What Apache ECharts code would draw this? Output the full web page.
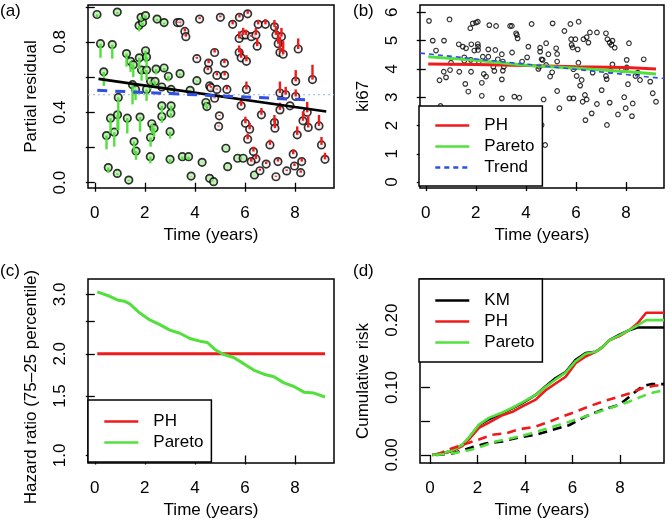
<!DOCTYPE html>
<html><head><meta charset="utf-8">
<script src="https://cdn.jsdelivr.net/npm/echarts@6/dist/echarts.min.js"></script>
<style>html,body{margin:0;padding:0;background:#fff}#c{width:672px;height:521px}</style>
</head><body><div id="c"></div>
<script>
// ---------- Panel (a): partial residuals ----------
const aGreenT = [0.09,0.90,1.77,1.91,1.85,2.03,2.49,2.77,0.23,0.70,1.27,1.43,1.54,1.78,2.03,2.07,1.87,2.07,2.45,2.77,2.94,3.41,0.36,4.08,2.23,2.41,2.68,3.05,1.51,1.63,2.07,0.94,3.81,4.44,4.48,2.68,3.05,2.68,3.04,0.63,0.91,1.30,1.81,2.28,2.37,3.01,0.47,0.78,2.23,1.57,1.65,2.22,3.01,3.50,3.75,0.54,0.90,1.36,3.85,4.29,4.59,4.75,5.24,5.31,5.71,5.93,6.38];
const aGreenY = [0.956,0.970,0.893,0.910,0.940,0.950,0.930,0.910,0.790,0.785,0.734,0.690,0.670,0.710,0.750,0.715,0.640,0.640,0.646,0.652,0.605,0.620,0.630,0.580,0.576,0.576,0.544,0.530,0.557,0.530,0.530,0.485,0.525,0.456,0.433,0.437,0.437,0.376,0.395,0.367,0.386,0.367,0.373,0.335,0.310,0.290,0.268,0.287,0.257,0.234,0.180,0.148,0.133,0.148,0.148,0.086,0.053,0.015,0.038,0.116,0.025,0.006,0.196,0.091,0.139,0.139,0.044];
const aGreenEnd = [0.940,0.960,0.860,0.890,0.920,0.935,0.920,0.900,0.710,0.705,0.660,0.630,0.600,0.645,0.685,0.660,0.580,0.585,0.615,0.635,0.575,0.610,0.550,0.575,0.530,0.550,0.530,0.520,0.445,0.470,0.465,0.300,0.520,0.440,0.420,0.390,0.405,0.340,0.370,0.280,0.300,0.280,0.290,0.280,0.260,0.250,0.190,0.205,0.205,0.170,0.130,0.110,0.110,0.130,0.130,0.055,0.045,0.010,0.036,0.115,0.024,0.005,0.195,0.090,0.138,0.138,0.043];
const aRedT = [3.30,3.40,3.60,3.64,4.19,5.02,5.51,5.78,6.11,5.77,5.93,6.04,6.26,6.44,6.53,6.82,7.18,7.24,7.33,7.46,7.40,7.53,6.49,8.13,5.77,5.85,6.06,4.79,4.55,5.18,4.08,4.52,4.88,5.19,4.59,4.64,4.88,5.28,6.06,7.40,7.63,8.03,8.03,8.70,4.79,4.98,4.95,5.85,6.02,6.19,6.11,6.66,7.18,7.20,7.40,8.09,8.32,8.49,8.53,8.96,9.06,9.20,7.00,6.34,6.44,6.25,6.60,6.85,7.24,7.32,7.67,7.93,7.98,8.23,8.27,7.80];
const aRedY = [0.910,0.910,0.860,0.830,0.930,0.940,0.900,0.940,0.960,0.820,0.840,0.840,0.830,0.840,0.900,0.900,0.886,0.840,0.790,0.830,0.740,0.730,0.776,0.760,0.740,0.710,0.690,0.740,0.680,0.680,0.705,0.640,0.610,0.610,0.550,0.540,0.530,0.530,0.530,0.510,0.500,0.490,0.576,0.586,0.480,0.380,0.320,0.437,0.338,0.304,0.247,0.386,0.342,0.310,0.414,0.272,0.352,0.400,0.314,0.323,0.215,0.133,0.215,0.177,0.135,0.120,0.068,0.106,0.034,0.120,0.067,0.162,0.095,0.057,0.120,0.437];
const aRedEnd = [0.915,0.915,0.875,0.845,0.940,0.950,0.920,0.955,0.975,0.860,0.880,0.870,0.840,0.880,0.925,0.930,0.925,0.890,0.855,0.880,0.830,0.805,0.820,0.820,0.780,0.755,0.725,0.760,0.700,0.700,0.715,0.655,0.625,0.630,0.560,0.550,0.535,0.550,0.575,0.575,0.545,0.530,0.640,0.670,0.485,0.385,0.325,0.470,0.375,0.340,0.280,0.425,0.385,0.360,0.455,0.320,0.405,0.460,0.385,0.385,0.260,0.170,0.245,0.205,0.160,0.140,0.080,0.120,0.040,0.135,0.075,0.190,0.110,0.070,0.140,0.440];
const aFitT = [0.15, 9.25];
const aFitY = [0.59, 0.405];
const aTrendT = [0.1, 8.7];
const aTrendY = [0.525, 0.47];
const aRefT = [-0.27, 9.56];
const aRefY = [0.5, 0.5];

// ---------- Panel (b): ki67 ----------
const bT = [0.13,0.28,0.41,0.95,0.73,0.55,0.72,0.81,0.97,1.01,0.59,1.32,1.48,1.61,1.54,1.54,1.34,1.58,1.70,1.80,1.81,1.78,1.88,2.01,2.08,1.82,1.94,2.08,2.09,2.09,2.12,2.28,2.24,2.24,2.32,2.41,2.50,2.54,2.50,2.70,2.74,2.78,2.81,2.88,3.04,3.04,3.04,3.08,3.08,3.12,3.37,3.44,3.45,3.54,3.74,3.61,3.67,3.64,3.85,4.05,4.10,4.23,4.50,4.54,4.57,4.57,4.63,4.63,4.67,4.71,4.77,4.81,4.81,4.90,4.97,5.05,5.07,5.21,5.25,5.25,5.25,5.34,5.54,5.74,5.78,5.81,5.83,5.87,5.90,5.90,5.98,6.07,6.10,6.11,6.03,6.17,6.23,6.27,6.30,6.36,6.38,6.43,6.43,6.50,6.56,6.63,6.67,6.84,6.84,7.03,7.20,7.20,7.23,7.24,7.26,7.35,7.35,7.39,7.42,7.46,7.46,7.55,7.68,7.83,7.93,7.99,8.03,8.03,8.12,8.08,8.24,8.27,8.38,8.47,8.56,8.71,8.97,9.07,9.20];
const bY = [5.70,5.00,4.65,5.75,5.00,3.60,3.90,3.70,3.96,4.22,2.69,4.87,4.79,4.73,4.41,4.29,3.90,3.47,3.20,4.32,3.90,5.44,5.61,5.64,5.67,4.87,4.65,4.88,4.79,4.67,4.26,4.43,3.51,3.05,3.82,3.73,4.69,5.55,4.43,4.08,3.93,4.67,5.52,4.34,4.52,2.96,3.63,3.94,4.26,4.08,5.52,5.52,4.58,3.02,2.98,5.26,5.08,5.20,4.26,4.41,4.79,5.59,4.00,4.08,4.75,4.61,2.02,4.34,4.32,2.92,1.31,4.91,4.14,4.52,3.73,3.88,5.61,4.73,4.53,4.26,3.22,2.61,5.34,2.96,5.59,5.05,4.85,4.76,3.99,2.96,5.05,4.69,4.22,5.67,3.75,3.41,3.61,2.84,5.05,3.08,2.19,2.92,5.12,4.93,5.29,2.43,3.87,5.29,2.76,3.25,5.26,3.75,3.64,2.02,5.05,4.93,2.81,3.93,4.85,4.16,5.00,4.75,2.39,3.96,3.00,2.61,4.32,4.05,4.91,3.46,2.33,2.78,3.75,3.87,3.61,4.34,3.55,3.14,2.84];
const bPHT = [0.1, 2, 4, 6, 8, 9.2];
const bPHY = [4.17, 4.16, 4.12, 4.08, 4.05, 4.0];
const bParT = [0.1, 1.8, 3.9, 6.0, 8.1, 9.2];
const bParY = [4.43, 4.32, 4.14, 4.02, 3.9, 3.82];
const bTrendT = [-0.23, 9.52];
const bTrendY = [4.56, 3.66];

// ---------- Panel (c): hazard ratio ----------
const cPHT = [0.1, 9.2];
const cPHY = [2.0, 2.0];
const cParT = [0.1,0.6,0.94,1.2,1.4,1.8,2.2,2.6,3.0,3.4,3.8,4.2,4.5,4.8,5.15,5.55,5.95,6.35,6.76,7.16,7.56,7.96,8.36,8.76,9.2];
const cParY = [3.05,2.96,2.88,2.86,2.81,2.64,2.52,2.44,2.35,2.30,2.22,2.18,2.16,2.06,1.99,1.95,1.87,1.79,1.74,1.71,1.64,1.60,1.54,1.53,1.49];

// ---------- Panel (d): cumulative risk ----------
const dSolidT = [0.1,0.5,0.94,1.36,1.64,2.06,2.48,3.05,3.47,3.89,4.45,4.87,5.29,5.71,6.13,6.55,6.98,7.26,7.54,7.96,8.38,8.73,9.1,9.85];
const dKMY  = [0,0.002,0.006,0.015,0.025,0.044,0.053,0.062,0.069,0.077,0.089,0.102,0.114,0.123,0.141,0.151,0.153,0.160,0.170,0.178,0.185,0.189,0.189,0.189];
const dPHY  = [0,0.002,0.006,0.013,0.023,0.040,0.048,0.059,0.064,0.072,0.082,0.096,0.106,0.116,0.136,0.146,0.153,0.160,0.170,0.176,0.185,0.195,0.211,0.211];
const dParY = [0,0.002,0.007,0.015,0.026,0.045,0.055,0.063,0.070,0.078,0.089,0.101,0.112,0.122,0.139,0.150,0.153,0.160,0.170,0.177,0.185,0.192,0.200,0.200];
const dPHdT = [0.25,0.94,1.64,2.06,2.62,3.19,3.75,4.45,5.01,5.57,6.13,6.69,7.26,7.82,8.38,8.94,9.5,9.85];
const dPHdY = [0,0.010,0.018,0.023,0.030,0.032,0.038,0.042,0.049,0.057,0.064,0.072,0.079,0.085,0.091,0.099,0.103,0.103];
const dKMdT = [0.25,0.94,1.64,2.34,3.05,3.75,4.45,5.15,5.85,6.55,7.26,7.96,8.38,8.94,9.3,9.85];
const dKMdY = [0,0.002,0.010,0.017,0.020,0.026,0.030,0.037,0.044,0.057,0.067,0.074,0.086,0.102,0.105,0.105];
const dPardT = [0.25,1.08,1.64,2.06,2.76,3.47,4.17,5.01,5.85,6.69,7.54,8.38,9.22,9.85];
const dPardY = [0,0.003,0.007,0.011,0.020,0.025,0.031,0.040,0.049,0.059,0.069,0.079,0.091,0.096];

// ---------- ticks ----------
const xTicks = [0, 2, 4, 6, 8];
const aYTicks = [0, 0.2, 0.4, 0.6, 0.8, 1.0];
const aYLabels = [0, 0.4, 0.8];
const bYTicks = [0, 1, 2, 3, 4, 5, 6];
const cYTicks = [1.0, 1.5, 2.0, 2.5, 3.0];
const cYLabels = [1.0, 1.5, 2.0, 3.0];
const dYTicks = [0, 0.05, 0.10, 0.15, 0.20, 0.25];
const dYLabels = [0, 0.10, 0.20];

// ---------- styling ----------
const FONT = 'Liberation Sans, Arial, Helvetica, sans-serif';
const FS = 17;
const RED = '#f01a1a', GREEN = '#52e03c', BLUE = '#2f4fe6', BLACK = '#000';
const zip = (t, y) => t.map((v, i) => [v, y[i]]);
const ln = Math.log;

const grids = [
  {left: 88, top: 5, width: 246, height: 183},
  {left: 420, top: 5, width: 244, height: 183},
  {left: 88, top: 279, width: 246, height: 184},
  {left: 420, top: 279, width: 244, height: 184}
].map(g => Object.assign(g, {show: true, borderColor: '#000', borderWidth: 1.5, backgroundColor: 'transparent', containLabel: false}));

function xAx(gi, min, max) {
  return {type: 'value', gridIndex: gi, min, max,
    name: 'Time (years)', nameLocation: 'middle', nameGap: 39,
    nameTextStyle: {fontSize: FS, color: '#000', fontFamily: FONT},
    axisLine: {show: false}, splitLine: {show: false},
    axisTick: {show: true, length: 9, customValues: xTicks, lineStyle: {color: '#000', width: 1.3}},
    axisLabel: {customValues: xTicks, fontSize: FS, color: '#000', fontFamily: FONT, margin: 17,
      formatter: v => String(Math.round(v))}};
}
function yAx(gi, min, max, name, ticks, labels, fmt, nameGap, namePad) {
  return {type: 'value', gridIndex: gi, min, max,
    name, nameLocation: 'middle', nameGap, nameRotate: 90,
    nameTextStyle: {fontSize: FS, color: '#000', fontFamily: FONT, padding: namePad || 0},
    axisLine: {show: false}, splitLine: {show: false},
    axisTick: {show: true, length: 9, customValues: ticks, lineStyle: {color: '#000', width: 1.3}},
    axisLabel: {customValues: labels, rotate: 90, fontSize: FS, color: '#000', fontFamily: FONT, margin: 19, formatter: fmt}};
}

function segSeries(T, Y, E, color) {
  return {type: 'custom', name: 'seg', xAxisIndex: 0, yAxisIndex: 0, z: 5,
    data: T.map((t, i) => [t, Y[i], E[i]]),
    encode: {x: 0, y: [1, 2]},
    renderItem: (params, api) => {
      const p0 = api.coord([api.value(0), api.value(1)]);
      const p1 = api.coord([api.value(0), api.value(2)]);
      return {type: 'line', shape: {x1: p0[0], y1: p0[1], x2: p1[0], y2: p1[1]},
        style: {stroke: color, lineWidth: 2.4}};
    }};
}
function lineS(name, gi, data, color, width, type, z) {
  return {type: 'line', name, xAxisIndex: gi, yAxisIndex: gi, data, symbol: 'none',
    lineStyle: {color, width, type: type || 'solid'}, itemStyle: {color}, z: z || 3, silent: true, animation: false};
}

const legendCommon = {orient: 'vertical', itemWidth: 34, itemHeight: 12, itemGap: 4,
  borderColor: '#000', borderWidth: 1.5, backgroundColor: '#fff', borderRadius: 0,
  selectedMode: false, lineStyle: {width: 2.6}, itemStyle: {opacity: 0},
  textStyle: {fontSize: FS, color: '#000', fontFamily: FONT, padding: [0, 0, 0, 10]}};

const option = {
  animation: false,
  textStyle: {fontFamily: FONT},
  title: [
    {text: '(a)', left: 0, top: 3},
    {text: '(b)', left: 353, top: 3},
    {text: '(c)', left: 0, top: 263},
    {text: '(d)', left: 353, top: 263}
  ].map(t => Object.assign(t, {padding: 0, textStyle: {fontSize: FS, fontWeight: 'normal', color: '#000', fontFamily: FONT}})),
  grid: grids,
  legend: [
    Object.assign({}, legendCommon, {left: 419, top: 106, padding: [11, 8, 10, 15], data: ['PH', 'Pareto', 'Trend']}),
    Object.assign({}, legendCommon, {left: 88, top: 400, padding: [13, 8, 11, 15], data: ['PH', 'Pareto']}),
    Object.assign({}, legendCommon, {left: 419, top: 279, padding: [13, 8, 11, 15], data: ['KM', 'PH', 'Pareto']})
  ],
  xAxis: [xAx(0, -0.27, 9.56), xAx(1, -0.23, 9.52), xAx(2, -0.27, 9.56), xAx(3, -0.42, 9.85)],
  yAxis: [
    yAx(0, -0.03, 1.01, 'Partial residual', aYTicks, aYLabels, v => v.toFixed(1), 48),
    yAx(1, -0.21, 6.26, 'ki67', bYTicks, bYTicks, v => String(Math.round(v)), 48),
    yAx(2, ln(0.95), ln(3.33), 'Hazard ratio (75\u201325 percentile)', cYTicks.map(ln), cYLabels.map(ln), v => Math.exp(v).toFixed(1), 48, [0, 32, 0, 0]),
    yAx(3, -0.012, 0.261, 'Cumulative risk', dYTicks, dYLabels, v => v.toFixed(2), 48, [0, 20, 0, 0])
  ],
  series: [
    // panel a
    lineS('refA', 0, zip(aRefT, aRefY), '#9fb2cc', 1.2, [2, 3], 1),
    {type: 'scatter', name: 'ptsG', xAxisIndex: 0, yAxisIndex: 0, data: zip(aGreenT, aGreenY), symbol: 'circle', symbolSize: 7.5,
      itemStyle: {color: '#b4eda8', borderColor: '#000', borderWidth: 1.7}, z: 4},
    {type: 'scatter', name: 'ptsR', xAxisIndex: 0, yAxisIndex: 0, data: zip(aRedT, aRedY), symbol: 'circle', symbolSize: 7.5,
      itemStyle: {color: '#fff3f3', borderColor: '#000', borderWidth: 1.7}, z: 4},
    segSeries(aGreenT, aGreenY, aGreenEnd, GREEN),
    segSeries(aRedT, aRedY, aRedEnd, RED),
    lineS('fitA', 0, zip(aFitT, aFitY), BLACK, 2.6, 'solid', 6),
    lineS('trendA', 0, zip(aTrendT, aTrendY), BLUE, 3, [10, 8], 6),
    // panel b
    {type: 'scatter', name: 'ptsB', xAxisIndex: 1, yAxisIndex: 1, data: zip(bT, bY), symbol: 'circle', symbolSize: 4.6,
      itemStyle: {color: 'rgba(255,255,255,0)', borderColor: '#000', borderWidth: 1.2}, z: 2},
    lineS('PH', 1, zip(bPHT, bPHY), RED, 3),
    lineS('Pareto', 1, zip(bParT, bParY), GREEN, 3),
    lineS('Trend', 1, zip(bTrendT, bTrendY), BLUE, 1.6, [5, 4]),
    // panel c
    lineS('PH', 2, zip(cPHT, cPHY.map(ln)), RED, 3),
    lineS('Pareto', 2, zip(cParT, cParY.map(ln)), GREEN, 3),
    // panel d
    lineS('KM', 3, zip(dSolidT, dKMY), BLACK, 2.6),
    lineS('PH', 3, zip(dSolidT, dPHY), RED, 2.6),
    lineS('Pareto', 3, zip(dSolidT, dParY), GREEN, 2.6),
    lineS('KMd', 3, zip(dKMdT, dKMdY), BLACK, 2.6, [9, 6]),
    lineS('PHd', 3, zip(dPHdT, dPHdY), RED, 2.6, [9, 6]),
    lineS('Paretod', 3, zip(dPardT, dPardY), GREEN, 2.6, [9, 6])
  ]
};
const chart = echarts.init(document.getElementById('c'), null, {renderer: 'canvas'});
chart.setOption(option);
</script></body></html>
